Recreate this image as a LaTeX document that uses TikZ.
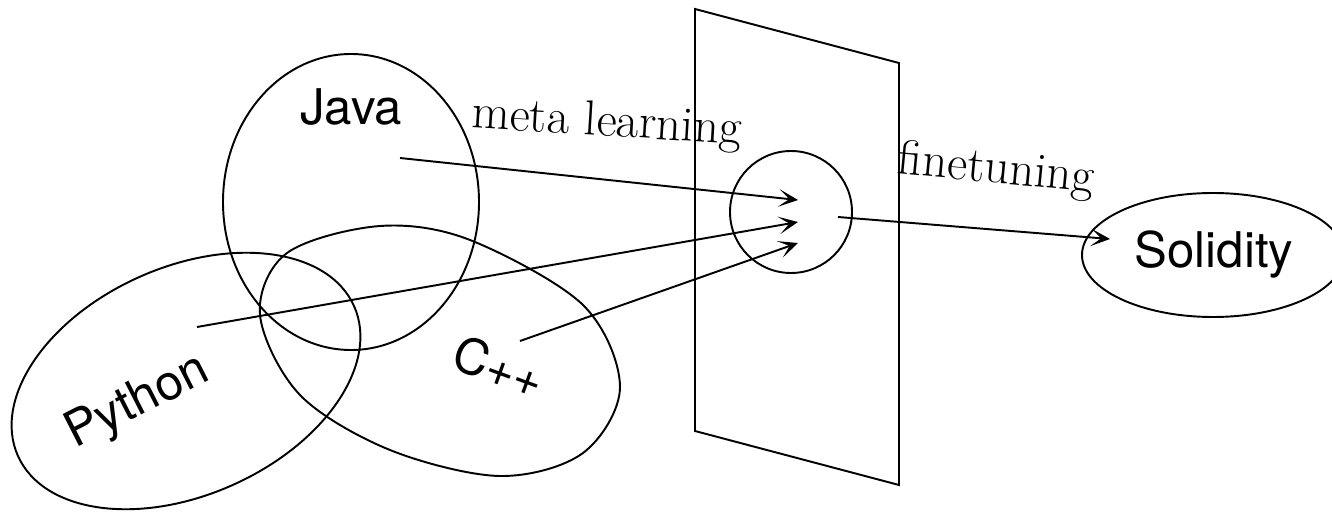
\documentclass[tikz,border=0pt]{standalone}
\usepackage{fontspec}
\usepackage{tikz}
\usetikzlibrary{arrows.meta}
\newfontfamily\helv{TeX Gyre Heros}

\tikzset{
    lang/.style={font=\helv\fontsize{28}{30}\selectfont, inner sep=0pt},
    steplabel/.style={font=\fontsize{28}{30}\selectfont, inner sep=0pt},
    flow/.style={-{Stealth[length=11pt, width=10pt, inset=6pt]}, line width=1.1pt},
}

\begin{document}
\begin{tikzpicture}[x=0.02cm, y=-0.02cm, line width=1.1pt]
        \useasboundingbox (0,0) rectangle (1332,513);

        % Java ellipse
        \draw (351,202) ellipse (128 and 148);
        \node[lang, anchor=base] (java) at (351,125) {Java};

        % Python ellipse (tilted up to the right)
        \draw[rotate around={24:(186,381)}] (186,381) ellipse (184 and 114);
        \node[lang, rotate=27] (python) at (138,403) {Python};

        % C++ blob
        \draw plot[smooth cycle, tension=0.55] coordinates {(380,226) (287,253) (260,315) (300,395) (390,450) (500,476) (583,453) (620,387) (583,305) (470,240)};
        \node[lang, rotate=-20] (cpp) at (499,367) {C++};

        % shared plane and the meta model
        \draw (695,9) -- (899,63) -- (899,485) -- (695,431) -- cycle;
        \draw (791,212) circle (61);
        \coordinate (hubA) at (798,200);
        \coordinate (hubB) at (798,222);
        \coordinate (hubC) at (798,243);
        \coordinate (hubout) at (838,217);

        % Solidity ellipse (runs off the right edge)
        \draw (1213,255) ellipse (131 and 62);
        \node[lang, anchor=base] (solidity) at (1214,268) {Solidity};
        \coordinate (soltip) at (1110,239);

        % sources of the arrows
        \coordinate (javasrc) at (400,158);
        \coordinate (pysrc) at (197,327);
        \coordinate (cppsrc) at (520,341);

        % meta learning arrows
        \draw[flow] (javasrc) -- (hubA);
        \draw[flow] (pysrc) -- (hubB);
        \draw[flow] (cppsrc) -- (hubC);
        \node[steplabel, anchor=base, rotate=-3.5] (meta) at (606,136) {meta learning};

        % finetuning arrow
        \draw[flow] (hubout) -- (soltip);
        \node[steplabel, anchor=base, rotate=-5.5] (finetune) at (995,183) {finetuning};

    \end{tikzpicture}
\end{document}
